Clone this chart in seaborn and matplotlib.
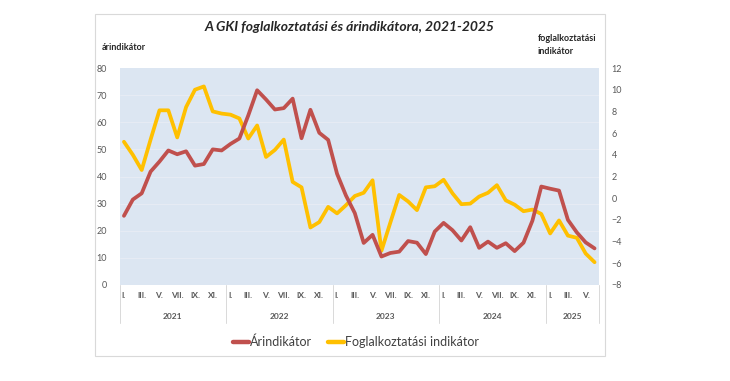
import matplotlib
matplotlib.use("Agg")
import matplotlib.pyplot as plt
import matplotlib.transforms as mtransforms
from matplotlib.patches import Rectangle
from matplotlib.lines import Line2D
import numpy as np
import pandas as pd
import seaborn as sns

# data, monthly, 2021 I. - 2025 VI.
years = ["2021", "2022", "2023", "2024", "2025"]
months_per_year = [12, 12, 12, 12, 6]
roman = ["I.", "II.", "III.", "IV.", "V.", "VI.", "VII.", "VIII.", "IX.", "X.", "XI.", "XII."]

price_indicator = [
    25.5, 31.5, 33.8, 41.8, 45.5, 49.6, 48.2, 49.3, 44.0, 44.6, 50.0, 49.6,
    52.0, 54.0, 62.5, 71.8, 68.4, 64.7, 65.2, 68.7, 54.1, 64.6, 56.1, 53.5,
    41.0, 33.0, 26.5, 15.5, 18.5, 10.5, 11.8, 12.3, 16.2, 15.6, 11.4, 19.7,
    22.9, 20.2, 16.4, 21.3, 13.7, 16.0, 13.7, 15.4, 12.5, 15.6, 23.7, 36.3,
    35.5, 34.8, 24.0, 19.4, 15.7, 13.5,
]
employment_indicator = [
    5.2, 4.0, 2.6, 5.4, 8.1, 8.1, 5.6, 8.4, 10.0, 10.3, 8.0, 7.8,
    7.7, 7.35, 5.5, 6.7, 3.8, 4.45, 5.4, 1.5, 1.0, -2.7, -2.2, -0.8,
    -1.4, -0.65, 0.2, 0.5, 1.65, -4.85, -2.25, 0.3, -0.3, -1.1, 1.0, 1.1,
    1.7, 0.45, -0.55, -0.5, 0.15, 0.5, 1.2, -0.2, -0.6, -1.2, -1.05, -1.45,
    -3.25, -2.05, -3.45, -3.65, -5.1, -5.9,
]

left_ticks = list(range(0, 81, 10))
right_ticks = list(range(-8, 13, 2))

RED = "#C0504D"
YELLOW = "#FFC000"
GRAY = "#595959"

sns.set_style("white")
plt.rcParams["font.family"] = ["Lato", "DejaVu Sans"]

df = pd.DataFrame({
    "idx": np.arange(len(price_indicator)),
    "ar": price_indicator,
    "fog": employment_indicator,
})

fig = plt.figure(figsize=(7.3, 3.81), dpi=100)
W, H = 730, 381

# outer chart frame
fig.patches.append(Rectangle((95 / W, (H - 356) / H), 510 / W, 342 / H,
                             transform=fig.transFigure, fill=False,
                             edgecolor="#D9D9D9", linewidth=0.8))

ax = fig.add_axes([119.5 / W, (H - 285) / H, (599 - 119.5) / W, 217 / H])
ax.set_facecolor("#DCE6F2")
ax2 = ax.twinx()

sns.lineplot(data=df, x="idx", y="ar", ax=ax, color=RED, linewidth=2.7, zorder=3)
sns.lineplot(data=df, x="idx", y="fog", ax=ax2, color=YELLOW, linewidth=2.7, zorder=3)
# keep red line above yellow like the original
ax.set_zorder(ax2.get_zorder() + 1)
ax.patch.set_visible(False)
ax2.patch.set_visible(True)
ax2.patch.set_facecolor("#DCE6F2")

n = len(price_indicator)
ax.set_xlim(-0.5, n - 0.5)
ax.set_ylim(0, 80)
ax2.set_ylim(-8, 12)
ax.set_yticks(left_ticks)
ax2.set_yticks(right_ticks)
ax.set_xticks([])
ax.set_xlabel("")
ax.set_ylabel("")
ax2.set_ylabel("")

for a in (ax, ax2):
    for s in a.spines.values():
        s.set_visible(False)
    a.tick_params(axis="y", length=0, labelsize=6.5, labelcolor=GRAY, pad=9)

for t in left_ticks[1:-1]:
    ax2.axhline(-8 + t / 4, color="#E8EDF5", linewidth=0.6, zorder=1)

# month / year category axis
trans = mtransforms.blended_transform_factory(ax.transData, ax.transAxes)
start = 0
bounds = [-0.5]
for year, cnt in zip(years, months_per_year):
    for m in range(0, cnt, 2):
        ax.text(start + m, -0.05, roman[m], transform=trans, ha="center", va="center",
                fontsize=6, color=GRAY, fontweight="bold")
    ax.text(start + (cnt - 1) / 2, -0.145, year, transform=trans, ha="center",
            va="center", fontsize=6, color=GRAY, fontweight="bold")
    start += cnt
    bounds.append(start - 0.5)
for b in bounds:
    ax.plot([b, b], [0, -0.175], transform=trans, color="#D9D9D9",
            linewidth=0.7, clip_on=False)

fig.text(350 / W, 1 - 27 / H, "A GKI foglalkoztatási és árindikátora, 2021-2025",
         ha="center", va="center", fontsize=10, fontweight="bold", style="italic",
         color="#262626")
fig.text(102 / W, 1 - 48 / H, "árindikátor", ha="left", va="center",
         fontsize=6.5, fontweight="bold", color="#262626")
fig.text(538 / W, 1 - 45 / H, "foglalkoztatási\nindikátor", ha="left", va="center",
         fontsize=6.5, fontweight="bold", color="#262626", linespacing=1.5)

handles = [Line2D([], [], color=RED, linewidth=3.2),
           Line2D([], [], color=YELLOW, linewidth=3.2)]
fig.legend(handles, ["Árindikátor", "Foglalkoztatási indikátor"],
           loc="center", bbox_to_anchor=(356 / W, 1 - 342 / H), ncol=2,
           frameon=False, fontsize=9, handlelength=1.3, handletextpad=0.1,
           columnspacing=1.2, labelcolor="#404040")

fig.savefig("out.png", dpi=100)
